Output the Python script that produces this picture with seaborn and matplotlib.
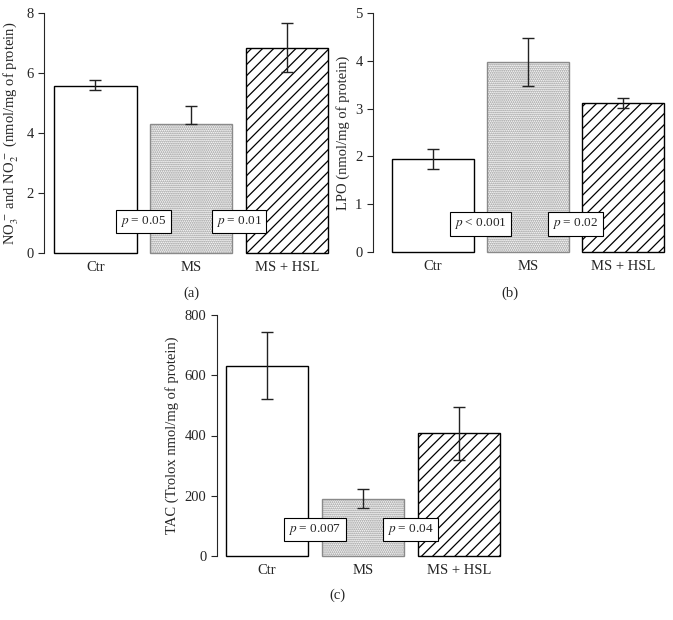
import matplotlib
matplotlib.use('Agg')
import matplotlib.pyplot as plt
import seaborn as sns
import pandas as pd

groups = ['Ctr', 'MS', 'MS + HSL']

# panel (a): NO3- and NO2-
no_mean = [5.58, 4.30, 6.82]
no_lo = [5.42, 4.30, 6.05]
no_hi = [5.77, 4.89, 7.68]
no_p = ['$p$ = 0.05', '$p$ = 0.01']
no_p_y = 1.05

# panel (b): LPO
lpo_mean = [1.94, 3.97, 3.12]
lpo_lo = [1.74, 3.48, 3.02]
lpo_hi = [2.15, 4.47, 3.22]
lpo_p = ['$p$ < 0.001', '$p$ = 0.02']
lpo_p_y = 0.59

# panel (c): TAC
tac_mean = [631, 189, 409]
tac_lo = [520, 158, 320]
tac_hi = [742, 222, 495]
tac_p = ['$p$ = 0.007', '$p$ = 0.04']
tac_p_y = 88

sns.set_style('ticks')
plt.rcParams['font.family'] = ['Liberation Serif', 'DejaVu Serif']
plt.rcParams['mathtext.fontset'] = 'stix'
plt.rcParams['hatch.linewidth'] = 0.9


def panel(fig, rect, mean, lo, hi, pvals, p_y, yticks, ylabel, xlim):
    ax = fig.add_axes(rect)
    df = pd.DataFrame({'group': groups, 'value': mean})
    sns.barplot(data=df, x='group', y='value', hue='group', order=groups,
                palette=['white', 'white', 'white'], width=0.86, legend=False,
                errorbar=None, ax=ax)
    styles = [('', 'black'), ('........', '#8a8a8a'), ('///', 'black')]
    for patch, (h, ec) in zip(ax.patches, styles):
        patch.set_hatch(h)
        patch.set_edgecolor(ec)
        patch.set_linewidth(1.0)
        patch.set_clip_on(False)
    yerr = [[m - l for m, l in zip(mean, lo)], [h - m for m, h in zip(mean, hi)]]
    ax.errorbar(range(3), mean, yerr=yerr, fmt='none', ecolor='#222222',
                elinewidth=1.0, capsize=4, capthick=1.0, zorder=5)
    for i, txt in enumerate(pvals):
        ax.text(i + 0.5, p_y, txt, ha='center', va='center', fontsize=9.5, zorder=6,
                bbox=dict(boxstyle='square,pad=0.32', fc='white', ec='black', lw=0.8))
    ax.set_ylim(yticks[0], yticks[-1])
    ax.set_yticks(yticks)
    ax.set_xlim(*xlim)
    ax.set_xlabel('')
    ax.set_ylabel(ylabel, fontsize=10.5)
    ax.tick_params(axis='y', labelsize=10.5, length=4, width=0.8, direction='out')
    ax.tick_params(axis='x', labelsize=10.5, length=0, pad=6)
    sns.despine(ax=ax, bottom=True)
    ax.spines['left'].set_linewidth(0.8)
    return ax


W, H = 673, 620
fig = plt.figure(figsize=(6.73, 6.2), dpi=100)

ax_a = panel(fig, [44 / W, (H - 253) / H, 286 / W, 240 / H],
             no_mean, no_lo, no_hi, no_p, no_p_y, [0, 2, 4, 6, 8],
             r'NO$_3^{\,-}$ and NO$_2^{\,-}$ (nmol/mg of protein)', (-0.536, 2.45))
ax_b = panel(fig, [373 / W, (H - 252) / H, 293 / W, 239 / H],
             lpo_mean, lpo_lo, lpo_hi, lpo_p, lpo_p_y, [0, 1, 2, 3, 4, 5],
             'LPO (nmol/mg of protein)', (-0.626, 2.45))
ax_c = panel(fig, [217 / W, (H - 556) / H, 285 / W, 241 / H],
             tac_mean, tac_lo, tac_hi, tac_p, tac_p_y, [0, 200, 400, 600, 800],
             'TAC (Trolox nmol/mg of protein)', (-0.52, 2.45))

fig.text(191 / W, 1 - 293 / H, '(a)', ha='center', va='center', fontsize=10.5)
fig.text(510 / W, 1 - 293 / H, '(b)', ha='center', va='center', fontsize=10.5)
fig.text(337 / W, 1 - 595 / H, '(c)', ha='center', va='center', fontsize=10.5)

fig.savefig('out.png', dpi=100, facecolor='white')
